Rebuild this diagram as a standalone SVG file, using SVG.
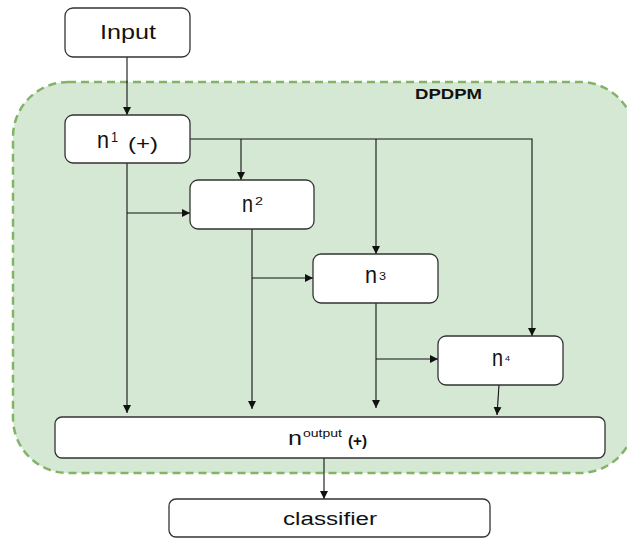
<svg xmlns="http://www.w3.org/2000/svg" width="627" height="539" viewBox="0 0 627 539">
<defs>
<style>
.box{fill:#fff;stroke:#333;stroke-width:1.3}
.t{font-family:"Liberation Sans",Arial,sans-serif;fill:#111}
.c{fill:none;stroke:#111;stroke-width:1.1}
</style>
<marker id="ah" markerUnits="userSpaceOnUse" markerWidth="10" markerHeight="10" refX="8" refY="4" orient="auto">
<path d="M0,0 L8,4 L0,8 Z" fill="#111"/>
</marker>
</defs>
<rect width="627" height="539" fill="#fff"/>
<g id="dpdpm">
<rect x="13" y="82" width="622" height="391" rx="55" ry="55" fill="#d5e8d4" stroke="#82b366" stroke-width="2.5" stroke-dasharray="8 5"/>
<text class="t" x="415" y="99" font-size="14" font-weight="bold" textLength="67" lengthAdjust="spacingAndGlyphs">DPDPM</text>
</g>
<g id="connectors">
<path class="c" d="M127,57 V115" marker-end="url(#ah)"/>
<path class="c" d="M190,139 H532 V336" marker-end="url(#ah)"/>
<path class="c" d="M241,139 V180" marker-end="url(#ah)"/>
<path class="c" d="M376,139 V254" marker-end="url(#ah)"/>
<path class="c" d="M127,163 V413" marker-end="url(#ah)"/>
<path class="c" d="M127,213 H190" marker-end="url(#ah)"/>
<path class="c" d="M252,229 V409" marker-end="url(#ah)"/>
<path class="c" d="M252,278 H313" marker-end="url(#ah)"/>
<path class="c" d="M376,303 V408" marker-end="url(#ah)"/>
<path class="c" d="M376,359 H438" marker-end="url(#ah)"/>
<path class="c" d="M499,385 L497,415" marker-end="url(#ah)"/>
<path class="c" d="M324,458 V499" marker-end="url(#ah)"/>
</g>
<g id="input">
<rect class="box" x="65" y="8" width="125" height="49" rx="8"/>
<text class="t" x="100" y="39" font-size="21" textLength="56" lengthAdjust="spacingAndGlyphs">Input</text>
</g>
<g id="n1">
<rect class="box" x="65" y="115" width="125" height="48" rx="8"/>
<text class="t" x="97" y="148" font-size="23" textLength="12" lengthAdjust="spacingAndGlyphs">n</text>
<text class="t" x="111" y="142" font-size="15" textLength="7" lengthAdjust="spacingAndGlyphs">1</text>
<text class="t" x="128" y="150" font-size="18" textLength="30" lengthAdjust="spacingAndGlyphs">(+)</text>
</g>
<g id="n2">
<rect class="box" x="190" y="180" width="124" height="49" rx="8"/>
<text class="t" x="242" y="212" font-size="23" textLength="11" lengthAdjust="spacingAndGlyphs">n</text>
<text class="t" x="255" y="205" font-size="11" textLength="8" lengthAdjust="spacingAndGlyphs">2</text>
</g>
<g id="n3">
<rect class="box" x="313" y="254" width="125" height="49" rx="8"/>
<text class="t" x="365" y="283" font-size="23" textLength="12" lengthAdjust="spacingAndGlyphs">n</text>
<text class="t" x="379" y="280" font-size="10" textLength="7" lengthAdjust="spacingAndGlyphs">3</text>
</g>
<g id="n4">
<rect class="box" x="438" y="336" width="125" height="49" rx="8"/>
<text class="t" x="492" y="366" font-size="23" textLength="11" lengthAdjust="spacingAndGlyphs">n</text>
<text class="t" x="505" y="361" font-size="8" textLength="5" lengthAdjust="spacingAndGlyphs">4</text>
</g>
<g id="noutput">
<rect class="box" x="55" y="417" width="550" height="41" rx="7"/>
<text class="t" x="288" y="445" font-size="20" textLength="14" lengthAdjust="spacingAndGlyphs">n</text>
<text class="t" x="303" y="437" font-size="10" textLength="39" lengthAdjust="spacingAndGlyphs">output</text>
<text class="t" x="348" y="446" font-size="14" font-weight="bold" textLength="19" lengthAdjust="spacingAndGlyphs">(+)</text>
</g>
<g id="classifier">
<rect class="box" x="169" y="499" width="321" height="38" rx="7"/>
<text class="t" x="283" y="525" font-size="18" textLength="94" lengthAdjust="spacingAndGlyphs">classifier</text>
</g>
</svg>
